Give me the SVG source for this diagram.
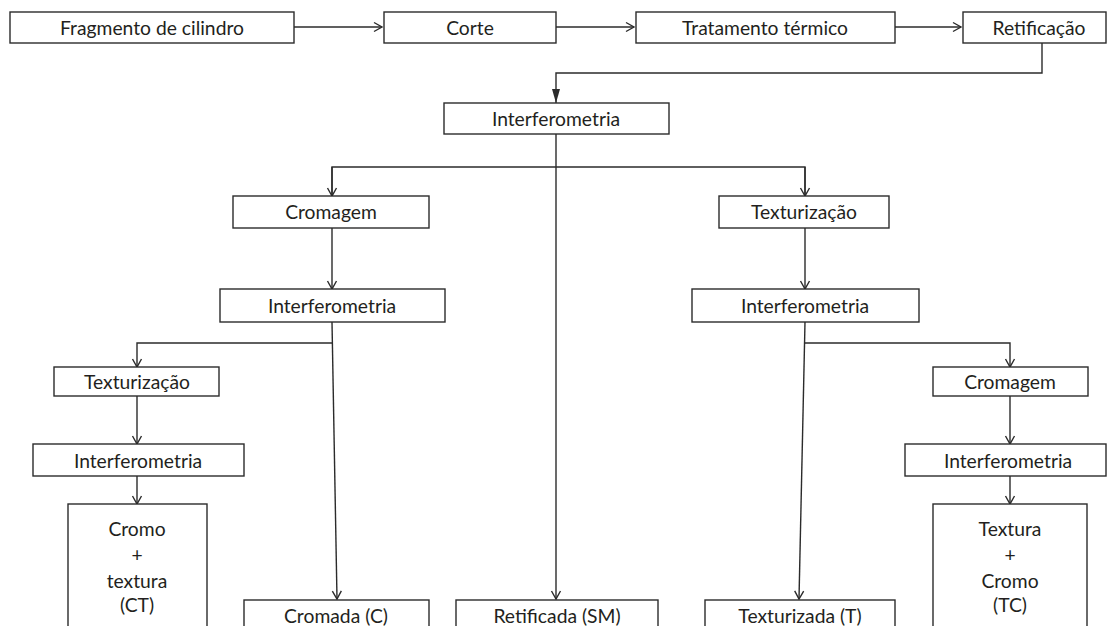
<svg xmlns="http://www.w3.org/2000/svg" width="1108" height="626" viewBox="0 0 1108 626">
<defs>
<style>
.box{fill:#fff;stroke:#2b2b2b;stroke-width:1.4}
.t{font-family:Lato,"Open Sans","Liberation Sans",sans-serif;font-size:19.3px;fill:#231f20;text-anchor:middle}
.ln{fill:none;stroke:#2b2b2b;stroke-width:1.4}
</style>
<marker id="open" markerUnits="userSpaceOnUse" markerWidth="14" markerHeight="14" viewBox="-10 -7 12 14" refX="0" refY="0" orient="auto">
<path d="M-8,-4.5 L0,0 L-8,4.5" fill="none" stroke="#2b2b2b" stroke-width="1.4"/>
</marker>
<marker id="filled" markerUnits="userSpaceOnUse" markerWidth="16" markerHeight="12" viewBox="-15 -6 16 12" refX="0" refY="0" orient="auto">
<path d="M-14,-4 L0,0 L-14,4 Z" fill="#2b2b2b"/>
</marker>
</defs>
<rect width="1108" height="626" fill="#fff"/>

<g id="connectors">
<line class="ln" x1="294" y1="27" x2="382" y2="27" marker-end="url(#open)"/>
<line class="ln" x1="556" y1="27" x2="634" y2="27" marker-end="url(#open)"/>
<line class="ln" x1="895" y1="27" x2="961" y2="27" marker-end="url(#open)"/>
<polyline class="ln" points="1042,43 1042,73 556,73 556,103" marker-end="url(#filled)"/>
<line class="ln" x1="556" y1="134" x2="556" y2="599" marker-end="url(#open)"/>
<polyline class="ln" points="332,196 332,167 805,167 805,196" />
<line class="ln" x1="332" y1="167" x2="332" y2="196" marker-end="url(#open)"/>
<line class="ln" x1="805" y1="167" x2="805" y2="196" marker-end="url(#open)"/>
<line class="ln" x1="332" y1="228" x2="332" y2="289" marker-end="url(#open)"/>
<line class="ln" x1="805" y1="228" x2="805" y2="289" marker-end="url(#open)"/>
<line class="ln" x1="332" y1="322" x2="337" y2="599" marker-end="url(#open)"/>
<polyline class="ln" points="332,343 137,343 137,367" marker-end="url(#open)"/>
<line class="ln" x1="805" y1="322" x2="799" y2="599" marker-end="url(#open)"/>
<polyline class="ln" points="805,343 1010,343 1010,367" marker-end="url(#open)"/>
<line class="ln" x1="137" y1="396" x2="137" y2="444" marker-end="url(#open)"/>
<line class="ln" x1="1010" y1="396" x2="1010" y2="444" marker-end="url(#open)"/>
<line class="ln" x1="137" y1="476" x2="137" y2="504" marker-end="url(#open)"/>
<line class="ln" x1="1010" y1="476" x2="1010" y2="504" marker-end="url(#open)"/>
</g>

<g id="n-fragmento"><rect class="box" x="10" y="12" width="284" height="31"/><text class="t" x="152" y="34.5">Fragmento de cilindro</text></g>
<g id="n-corte"><rect class="box" x="384" y="12" width="172" height="31"/><text class="t" x="470" y="34.5">Corte</text></g>
<g id="n-tratamento"><rect class="box" x="636" y="12" width="259" height="31"/><text class="t" x="765" y="34.5">Tratamento térmico</text></g>
<g id="n-retificacao"><rect class="box" x="963" y="12" width="143" height="31"/><text class="t" x="1039" y="34.5">Retificação</text></g>

<g id="n-interf0"><rect class="box" x="444" y="103" width="225" height="31"/><text class="t" x="556" y="125.5">Interferometria</text></g>

<g id="n-cromagem1"><rect class="box" x="233" y="196" width="196" height="32"/><text class="t" x="331" y="218.5">Cromagem</text></g>
<g id="n-texturizacao1"><rect class="box" x="719" y="196" width="170" height="32"/><text class="t" x="804" y="218.5">Texturização</text></g>

<g id="n-interf1"><rect class="box" x="220" y="289" width="225" height="33"/><text class="t" x="332" y="312.5">Interferometria</text></g>
<g id="n-interf2"><rect class="box" x="692" y="289" width="227" height="33"/><text class="t" x="805" y="312.5">Interferometria</text></g>

<g id="n-texturizacao2"><rect class="box" x="54" y="367" width="165" height="29"/><text class="t" x="137" y="388.5">Texturização</text></g>
<g id="n-cromagem2"><rect class="box" x="933" y="367" width="155" height="29"/><text class="t" x="1010" y="388.5">Cromagem</text></g>

<g id="n-interf3"><rect class="box" x="33" y="444" width="211" height="32"/><text class="t" x="138" y="467.5">Interferometria</text></g>
<g id="n-interf4"><rect class="box" x="905" y="444" width="201" height="32"/><text class="t" x="1008" y="467.5">Interferometria</text></g>

<g id="n-ct"><rect class="box" x="68" y="504" width="139" height="140"/>
<text class="t" x="137" y="536">Cromo</text><text class="t" x="137" y="562">+</text><text class="t" x="137" y="588">textura</text><text class="t" x="137" y="612">(CT)</text></g>
<g id="n-tc"><rect class="box" x="933" y="504" width="154" height="140"/>
<text class="t" x="1010" y="536">Textura</text><text class="t" x="1010" y="562">+</text><text class="t" x="1010" y="588">Cromo</text><text class="t" x="1010" y="612">(TC)</text></g>

<g id="n-cromada"><rect class="box" x="244" y="600" width="185" height="44"/><text class="t" x="336" y="622.5">Cromada (C)</text></g>
<g id="n-retificada"><rect class="box" x="456" y="600" width="202" height="44"/><text class="t" x="557" y="622.5">Retificada (SM)</text></g>
<g id="n-texturizada"><rect class="box" x="705" y="600" width="190" height="44"/><text class="t" x="800" y="622.5">Texturizada (T)</text></g>
</svg>
